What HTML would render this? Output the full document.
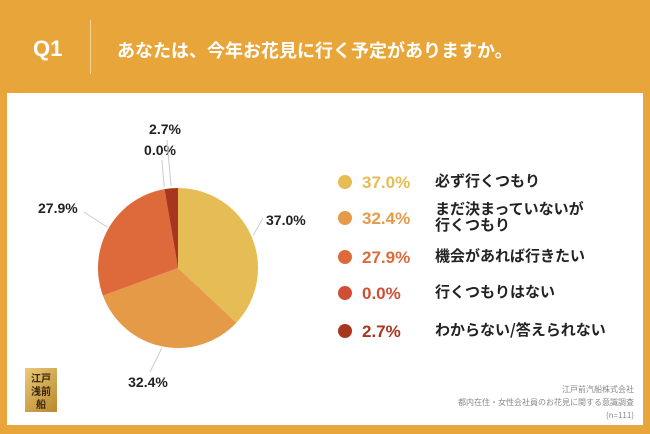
<!DOCTYPE html>
<html><head><meta charset="utf-8"><style>
body{margin:0;width:650px;height:434px;background:#E8A63A;position:relative;overflow:hidden;font-family:"Liberation Sans","Noto Sans CJK JP",sans-serif}
.abs{position:absolute}
</style></head><body>
<div class="abs" style="left:33px;top:36px;color:#fff;font-size:22px;font-weight:bold">Q1</div>
<div class="abs" style="left:90px;top:20px;width:1px;height:54px;background:#F3D29A"></div>
<div class="abs" style="left:117px;top:37px;color:#fff;font-size:18px;font-weight:bold;font-family:'Noto Sans CJK JP',sans-serif">あなたは、今年お花見に行く予定がありますか。</div>
<div class="abs" style="left:7px;top:93px;width:636px;height:332px;background:#fff"></div>
<svg class="abs" style="left:0;top:0" width="650" height="434" id="pie"></svg>
<div class="abs" style="left:25px;top:368px;width:32px;height:44px;background:linear-gradient(135deg,#e9c978,#b8882e);color:#3a2508;font-size:10px;line-height:13px;font-weight:bold;font-family:'Noto Sans CJK JP',sans-serif;text-align:center;padding-top:3px;box-sizing:border-box">江戸<br>浅前<br>船</div>
<div class="abs" style="right:16px;top:383px;text-align:right;color:#888;font-size:8px;line-height:13px;font-family:'Noto Sans CJK JP',sans-serif">江戸前汽船株式会社<br>都内在住・女性会社員のお花見に関する意識調査<br>(n=111)</div>
<script>
const categories=["必ず行くつもり","まだ決まっていないが<br>行くつもり","機会があれば行きたい","行くつもりはない","わからない/答えられない"];
const values=[37.0,32.4,27.9,0.0,2.7];
const colors=["#E6BC55","#E59A48","#DE6A3C","#D04E36","#A8361F"];
const svg=document.getElementById('pie');const NS="http://www.w3.org/2000/svg";
const cx=178,cy=268,r=80;const total=values.reduce((a,b)=>a+b,0);
function pt(a,rr){return [cx+rr*Math.sin(a),cy-rr*Math.cos(a)];}
let a0=0;
const labelPos=[[266,225,'start'],[148,387,'middle'],[38,213,'start'],[160,155,'middle'],[165,134,'middle']];
const lineEnd=[[263,218],[150,372],[84,212],[162,160],[167,140]];
values.forEach((v,i)=>{
 const a1=a0+v/total*2*Math.PI;
 if(v>0){const p=document.createElementNS(NS,'path');const s=pt(a0,r),e=pt(a1,r);
 p.setAttribute('d',`M${cx},${cy}L${s[0]},${s[1]}A${r},${r} 0 ${a1-a0>Math.PI?1:0} 1 ${e[0]},${e[1]}Z`);
 p.setAttribute('fill',colors[i]);
 
 
 svg.appendChild(p);}
 const mid=(a0+a1)/2;const q=pt(mid,r+2);const lp=labelPos[i];
 const ln=document.createElementNS(NS,'line');ln.setAttribute('x1',q[0]);ln.setAttribute('y1',q[1]);
 ln.setAttribute('x2',lineEnd[i][0]);ln.setAttribute('y2',lineEnd[i][1]);
 ln.setAttribute('stroke','#ccc');ln.setAttribute('stroke-width','1');
 
 
 svg.appendChild(ln);
 const t=document.createElementNS(NS,'text');t.setAttribute('x',lp[0]);t.setAttribute('y',lp[1]);t.setAttribute('text-anchor',lp[2]);
 t.setAttribute('font-size','14');t.setAttribute('font-weight','bold');t.setAttribute('fill','#222');t.setAttribute('font-family','Liberation Sans, sans-serif');
 t.textContent=v.toFixed(1)+'%';
 
 
 svg.appendChild(t);
 a0=a1;
});
const rowsY=[185,221,260,296,334];
categories.forEach((c,i)=>{
 const d=document.createElement('div');d.className='abs';d.style.cssText=`left:338px;top:${rowsY[i]-10}px;width:14px;height:14px;border-radius:50%;background:${colors[i]}`;
 
 
 document.body.appendChild(d);
 const p=document.createElementNS?document.createElement('div'):null;p.className='abs';p.style.cssText=`left:362px;top:${rowsY[i]-12}px;font-size:17px;font-weight:bold;color:${colors[i]}`;p.textContent=values[i].toFixed(1)+'%';
 
 
 document.body.appendChild(p);
 const l=document.createElement('div');l.className='abs';const two=c.includes('<br>');
 l.style.cssText=`left:435px;top:${rowsY[i]-(two?20:12)}px;font-size:15px;line-height:16px;font-weight:bold;color:#222;font-family:'Noto Sans CJK JP',sans-serif`;l.innerHTML=c;
 
 
 document.body.appendChild(l);
});
</script>
</body></html>
